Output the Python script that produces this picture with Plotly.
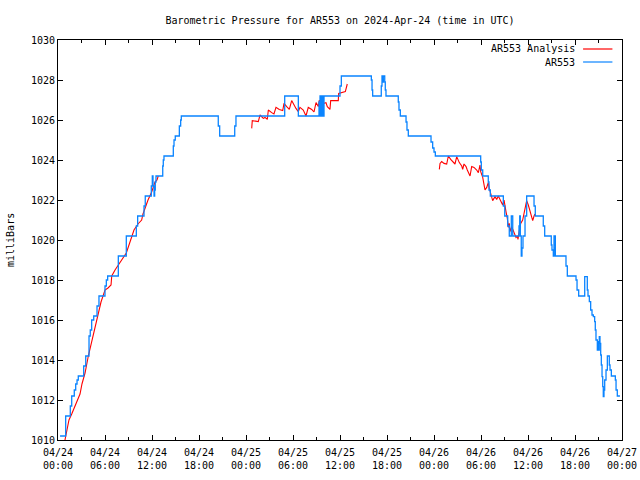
import plotly.graph_objects as go

# ---- data (hours since 2024-04-24 00:00 UTC, pressure in mbar) ----
obs_hours = [0.26, 0.98, 1.57, 1.75, 2.08, 2.26, 2.43, 2.59, 3.28, 3.54,
             3.96, 4.12, 4.30, 4.56, 4.98, 5.23, 6.0, 6.17, 6.34, 7.70,
             8.72, 10.0, 10.17, 10.98, 11.14, 11.91, 12.04, 12.13, 12.26, 12.34,
             12.42, 12.51, 13.37, 13.44, 13.53, 14.72, 14.81, 14.97, 15.49, 15.66,
             15.74, 20.46, 20.64, 22.56, 22.72, 28.94, 30.68, 33.32, 33.41, 33.45,
             33.54, 33.61, 33.70, 33.79, 33.87, 33.96, 36.0, 36.17, 40.0, 40.09,
             40.17, 41.27, 41.36, 41.45, 41.53, 41.58, 41.71, 41.78, 41.87, 43.44,
             43.53, 43.70, 44.43, 44.55, 44.72, 47.62, 47.83, 48.0, 48.17, 53.96,
             54.04, 54.22, 54.93, 55.02, 55.19, 56.85, 57.03, 57.41, 57.61, 57.87,
             58.05, 58.85, 58.94, 59.02, 59.14, 59.23, 59.36, 59.62, 59.83, 60.77,
             60.93, 61.95, 62.13, 62.97, 63.06, 63.23, 63.32, 63.49, 64.85, 65.02,
             66.13, 66.26, 66.47, 67.24, 67.57, 67.66, 67.83, 68.0, 68.17, 68.34,
             68.51, 68.59, 68.68, 68.85, 68.94, 69.02, 69.10, 69.19, 69.28, 69.36,
             69.45, 69.54, 69.61, 69.70, 69.79, 69.96, 70.13, 70.38, 70.47, 70.64,
             71.15, 71.24, 71.40, 71.74]
obs_mbar = [1010.2, 1011.2, 1011.7, 1012.2, 1012.5, 1012.8, 1013.0, 1013.2, 1013.7, 1014.2,
            1015.2, 1015.5, 1016.0, 1016.2, 1016.7, 1017.2, 1017.7, 1018.0, 1018.2, 1019.2,
            1020.2, 1020.7, 1021.2, 1021.7, 1022.2, 1022.7, 1023.2, 1022.7, 1022.2, 1022.5,
            1022.9, 1023.2, 1023.7, 1024.0, 1024.2, 1024.7, 1025.0, 1025.2, 1025.7, 1026.0,
            1026.2, 1025.7, 1025.2, 1025.7, 1026.2, 1027.2, 1026.2, 1026.9, 1026.2, 1027.2,
            1026.2, 1027.2, 1026.2, 1027.2, 1026.2, 1027.2, 1027.7, 1028.2, 1028.0, 1027.5,
            1027.2, 1027.7, 1028.2, 1027.9, 1028.2, 1028.2, 1027.9, 1027.5, 1027.2, 1026.9,
            1026.5, 1026.2, 1025.9, 1025.5, 1025.2, 1024.9, 1024.6, 1024.4, 1024.2, 1023.9,
            1023.5, 1023.2, 1022.9, 1022.5, 1022.2, 1021.7, 1021.2, 1020.7, 1020.2, 1021.2,
            1020.2, 1020.7, 1021.2, 1020.2, 1019.2, 1019.6, 1020.2, 1021.2, 1022.2, 1021.7,
            1021.2, 1020.7, 1020.2, 1019.75, 1019.5, 1019.2, 1020.2, 1019.2, 1018.7, 1018.2,
            1018.0, 1017.5, 1017.2, 1018.17, 1017.5, 1017.2, 1016.92, 1016.5, 1016.25, 1016.17,
            1015.92, 1015.5, 1015.0, 1014.5, 1014.92, 1014.5, 1015.17, 1014.83, 1014.25, 1013.75,
            1013.17, 1012.67, 1012.17, 1012.5, 1013.0, 1013.5, 1014.2, 1013.75, 1013.5, 1013.2,
            1013.0, 1012.5, 1012.2, 1012.2]

ana1_hours = [0.89, 1.15, 1.40, 1.75, 2.04, 2.43, 2.81, 3.06, 3.45, 3.87,
              4.21, 4.72, 5.14, 5.49, 6.0, 6.38, 6.77, 6.86, 7.28, 7.70,
              8.17, 8.72, 9.19, 9.70, 10.21, 10.68, 10.85, 11.49, 11.96, 12.38,
              12.64, 12.80]
ana1_mbar = [1010.0, 1010.5, 1011.0, 1011.3, 1011.6, 1012.0, 1012.3, 1012.8, 1013.35, 1014.2,
             1014.8, 1015.6, 1016.3, 1016.9, 1017.5, 1017.6, 1017.75, 1018.2, 1018.5, 1018.75,
             1019.0, 1019.35, 1019.9, 1020.5, 1020.8, 1021.0, 1021.3, 1022.0, 1022.4, 1022.9,
             1023.0, 1023.2]

ana2_hours = [24.73, 24.80, 25.57, 25.79, 26.21, 26.43, 26.72, 26.85, 27.28, 27.57,
              27.83, 28.25, 28.69, 28.85, 29.20, 29.53, 29.83, 30.04, 30.38, 30.68,
              30.89, 31.31, 31.66, 31.95, 32.39, 32.68, 32.94, 33.23, 33.36, 33.54,
              33.87, 34.21, 34.38, 34.72, 34.81, 35.78, 35.83, 36.68, 36.77, 36.93]
ana2_mbar = [1025.58, 1025.97, 1025.92, 1026.25, 1026.08, 1026.13, 1026.03, 1026.5, 1026.37, 1026.3,
             1026.63, 1026.53, 1026.47, 1026.83, 1026.67, 1026.53, 1026.97, 1026.8, 1026.58, 1026.42,
             1026.63, 1026.5, 1026.2, 1026.63, 1026.53, 1026.4, 1026.87, 1026.67, 1027.0, 1026.53,
             1026.83, 1026.87, 1026.67, 1026.53, 1026.97, 1026.97, 1027.33, 1027.42, 1027.58, 1027.8]

ana3_hours = [48.68, 48.77, 48.98, 49.28, 49.62, 49.83, 50.13, 50.46, 50.68, 50.90,
              51.23, 51.54, 51.66, 51.83, 52.09, 52.25, 52.38, 52.60, 52.81, 53.11,
              53.45, 53.66, 53.87, 53.96, 54.22, 54.38, 54.51, 54.73, 54.93, 55.06,
              55.24, 55.49, 55.79, 56.0, 56.21, 56.43, 56.77, 56.94, 57.03, 57.19,
              57.36, 57.49, 57.61, 57.70, 57.92, 58.12, 58.34, 58.47, 58.64, 58.72,
              58.89, 59.07, 59.32, 59.49, 59.66, 59.83, 60.04, 60.26, 60.47, 60.60,
              60.77, 60.89]
ana3_mbar = [1023.53, 1023.83, 1023.92, 1023.83, 1023.8, 1024.2, 1024.03, 1023.92, 1023.8, 1024.17,
             1023.87, 1023.7, 1023.53, 1023.8, 1023.67, 1023.5, 1023.37, 1023.2, 1023.67, 1023.63,
             1023.5, 1023.37, 1023.75, 1023.42, 1023.13, 1022.83, 1022.5, 1022.63, 1022.87, 1022.58,
             1022.33, 1021.97, 1022.17, 1022.03, 1022.2, 1022.03, 1021.75, 1022.0, 1021.67, 1021.42,
             1021.08, 1020.63, 1020.83, 1020.42, 1020.67, 1020.47, 1020.33, 1020.13, 1020.2, 1020.03,
             1020.47, 1020.83, 1021.0, 1021.33, 1021.67, 1021.97, 1021.75, 1021.42, 1021.13, 1020.97,
             1021.2, 1021.3]

tick_hours = list(range(0, 73, 6))
tick_labels = ["04/24<br>00:00", "04/24<br>06:00", "04/24<br>12:00", "04/24<br>18:00",
               "04/25<br>00:00", "04/25<br>06:00", "04/25<br>12:00", "04/25<br>18:00",
               "04/26<br>00:00", "04/26<br>06:00", "04/26<br>12:00", "04/26<br>18:00",
               "04/27<br>00:00"]
y_ticks = list(range(1010, 1031, 2))

ana_hours = ana1_hours + [None] + ana2_hours + [None] + ana3_hours
ana_mbar = ana1_mbar + [None] + ana2_mbar + [None] + ana3_mbar

RED = "#ff0000"
BLUE = "#0a84ff"
FONT = "DejaVu Sans Mono"

fig = go.Figure()
fig.add_trace(go.Scatter(x=ana_hours, y=ana_mbar, mode="lines", name="AR553 Analysis",
                         line=dict(color=RED, width=1.1), connectgaps=False))
fig.add_trace(go.Scatter(x=obs_hours, y=obs_mbar, mode="lines", name="AR553",
                         line=dict(color=BLUE, width=1.3, shape="hv")))

# legend drawn gnuplot-style: text on the left, sample line on the right
legend_items = [("AR553 Analysis", RED, 0.9775), ("AR553", BLUE, 0.945)]
for label, col, yp in legend_items:
    fig.add_annotation(x=0.921, y=yp, xref="paper", yref="paper", text=label,
                       showarrow=False, xanchor="right", yanchor="middle",
                       font=dict(family=FONT, size=10, color="black"))
    fig.add_shape(type="line", xref="paper", yref="paper", x0=0.931, x1=0.983,
                  y0=yp, y1=yp, line=dict(color=col, width=1.2))

fig.add_annotation(x=-0.0851, y=0.5, xref="paper", yref="paper", text="milliBars",
                   showarrow=False, textangle=-90, xanchor="center", yanchor="middle",
                   font=dict(family=FONT, size=10, color="black"))

fig.update_layout(
    width=640, height=480,
    margin=dict(l=58, r=18, t=40, b=40, autoexpand=False),
    paper_bgcolor="white", plot_bgcolor="white",
    showlegend=False,
    font=dict(family=FONT, size=10, color="black"),
    title=dict(text="Barometric Pressure for AR553 on 2024-Apr-24 (time in UTC)",
               x=0.53125, xanchor="center", y=0.9583, yanchor="middle",
               font=dict(family=FONT, size=10, color="black")),
    xaxis=dict(range=[0, 72], tickmode="array", tickvals=tick_hours, ticktext=tick_labels,
               ticks="inside", ticklen=5, tickcolor="black", showline=True, linecolor="black",
               linewidth=1, mirror="allticks", showgrid=False, zeroline=False, automargin=False,
               ticklabelstandoff=3,
               minor=dict(tickvals=list(range(3, 72, 6)), ticks="inside", ticklen=3,
                          tickcolor="black", showgrid=False)),
    yaxis=dict(range=[1010, 1030], tickmode="array", tickvals=y_ticks,
               ticks="inside", ticklen=5, tickcolor="black", showline=True, linecolor="black",
               linewidth=1, mirror="allticks", showgrid=False, zeroline=False, automargin=False),
)

# remove the default page margin so the 640x480 figure fills the window exactly
fig.write_html("out.html", config={"displayModeBar": False},
               post_script="document.body.style.margin='0';document.body.style.overflow='hidden';")
